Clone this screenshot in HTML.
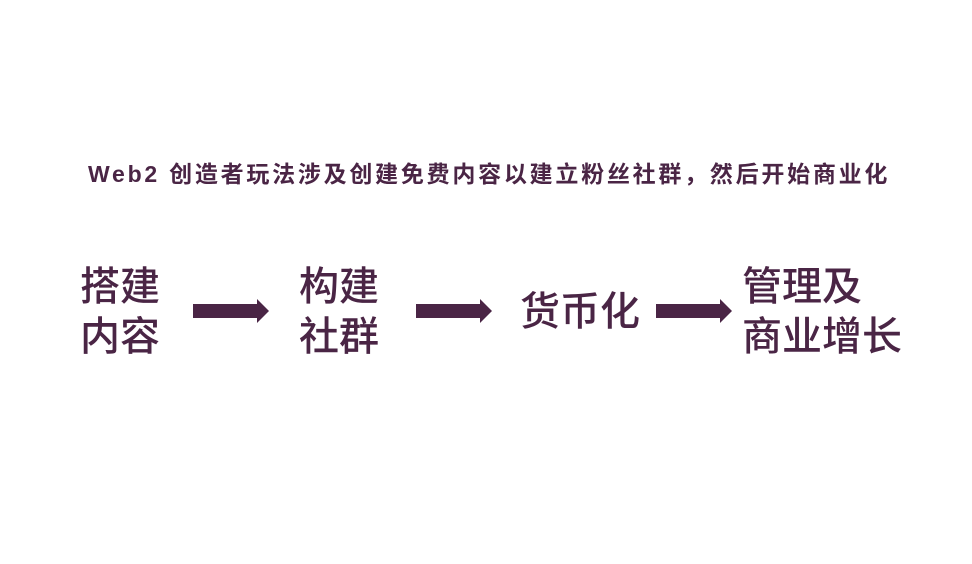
<!DOCTYPE html>
<html><head><meta charset="utf-8"><style>
body{margin:0;width:972px;height:564px;background:#fff;position:relative;overflow:hidden;font-family:"Liberation Sans","Noto Sans CJK SC",sans-serif;color:#4a2545}
.t{position:absolute;white-space:nowrap}
.title{left:88px;top:155px;font-size:23px;font-weight:bold;letter-spacing:2.75px}
.big{font-size:40px;line-height:50px;font-weight:500}
</style></head><body>
<div class="t title">Web2 创造者玩法涉及创建免费内容以建立粉丝社群，然后开始商业化</div>
<div class="t big" style="left:80px;top:262px">搭建<br>内容</div>
<div class="t big" style="left:299px;top:262px">构建<br>社群</div>
<div class="t big" style="left:520px;top:287px">货币化</div>
<div class="t big" style="left:742px;top:262px">管理及<br>商业增长</div>
<svg width="972" height="564" style="position:absolute;left:0;top:0">
<g fill="#4a2545">
<polygon points="193,304 257,304 257,299 269,311 257,323 257,318 193,318"/>
<polygon points="416,304 480,304 480,299 492,311 480,323 480,318 416,318"/>
<polygon points="656,304 720,304 720,299 732,311 720,323 720,318 656,318"/>
</g></svg>
</body></html>
